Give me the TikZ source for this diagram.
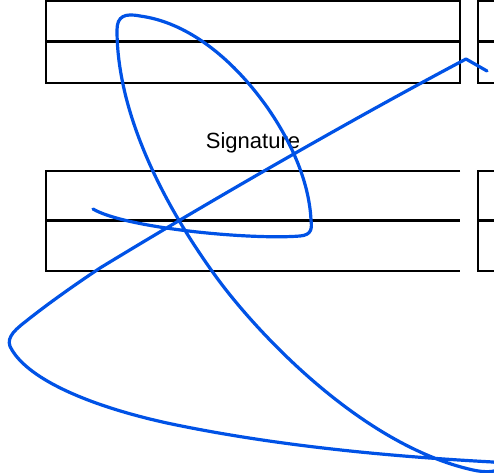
\documentclass[tikz,border=0pt]{standalone}
\usepackage{fontspec}
\setmainfont{Liberation Sans}
\definecolor{inkblue}{RGB}{0,82,230}

\begin{document}
\begin{tikzpicture}[x=1pt,y=-1pt,
    field/.style={draw=black,line width=2.4pt},
    ink/.style={draw=inkblue,line width=3.2pt,line cap=round,line join=round}]
    \useasboundingbox (0,0) rectangle (494,472);
    \clip (0,0) rectangle (494,472);

    \coordinate (T1) at (46,1);
    \coordinate (T2) at (460,83);
    \coordinate (B1) at (46,171);
    \coordinate (B2) at (460,271);
    \coordinate (R1) at (478,1);
    \coordinate (R2) at (478,171);

    % upper fields
    \draw[field] (T1) rectangle (T2);
    \draw[field] (46,41.5) -- (460,41.5);
    \draw[field] (500,1) -- (R1) -- (478,83) -- (500,83);
    \draw[field] (478,41.5) -- (500,41.5);

    % lower fields
    \draw[field] (460,171) -- (B1) -- (46,271) -- (B2);
    \draw[field] (46,220.5) -- (460,220.5);
    \draw[field] (500,171) -- (R2) -- (478,271) -- (500,271);
    \draw[field] (478,220.5) -- (500,220.5);

    \node[anchor=base,font=\fontsize{22}{26}\selectfont] (sig) at (253,148) {Signature};

    % the scribble
    \draw[ink] (93,209) .. controls (125,228) and (250,240) .. (300,236)
        .. controls (312,235) and (312,228) .. (311,220)
        .. controls (309,180) and (290,140) .. (267,107)
        .. controls (230,55) and (185,22) .. (140,16)
        .. controls (125,13) and (117,16) .. (117,30)
        .. controls (117,110) and (160,200) .. (217,278)
        .. controls (255,330) and (360,445) .. (473,470)
        .. controls (500,476) and (510,464) .. (493,462)
        .. controls (400,457) and (280,447) .. (167,423)
        .. controls (90,406) and (30,380) .. (12,350)
        .. controls (5,340) and (12,332) .. (25,322)
        .. controls (45,306) and (70,288) .. (100,268)
        .. controls (220,195) and (360,115) .. (466,59)
        -- (487,71);
\end{tikzpicture}
\end{document}
